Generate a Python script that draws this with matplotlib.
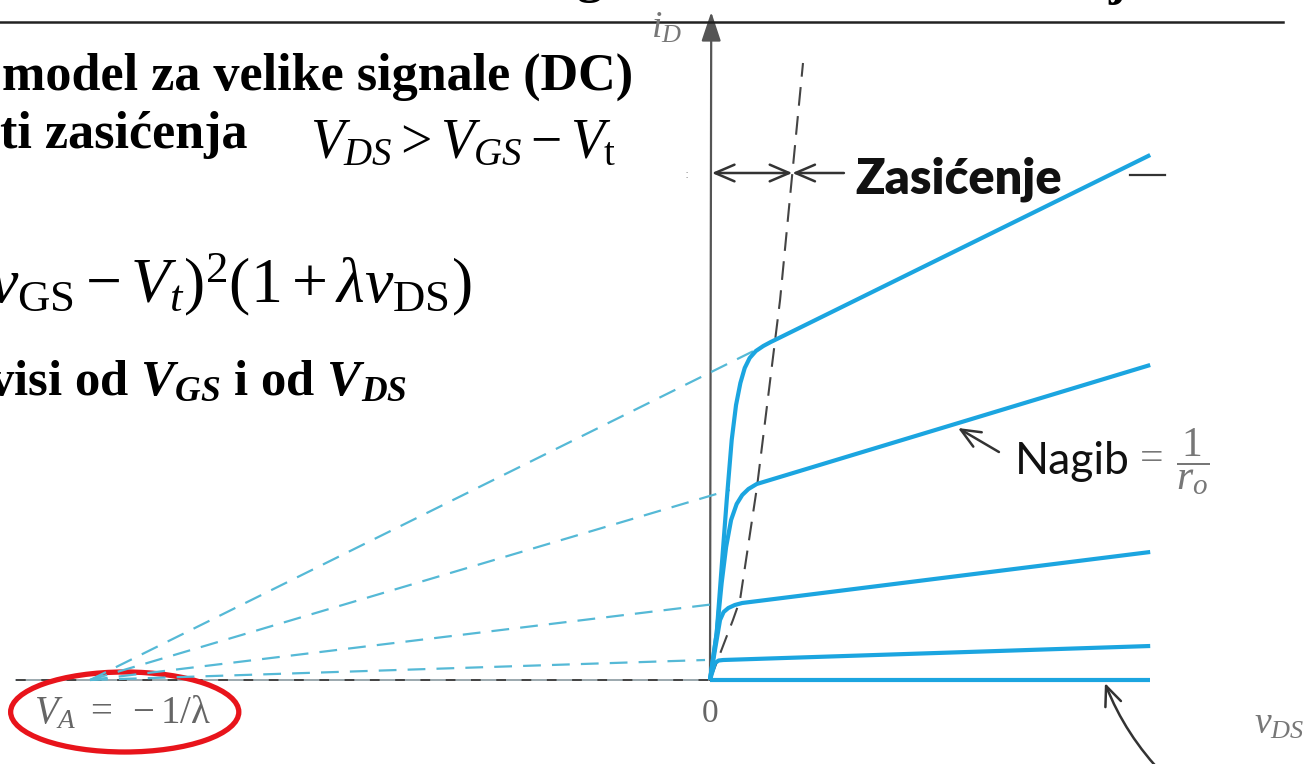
import matplotlib.pyplot as plt
import matplotlib.transforms as mtransforms
from matplotlib.patches import Ellipse

plt.rcParams['mathtext.fontset'] = 'custom'
plt.rcParams['mathtext.rm'] = 'Liberation Serif'
plt.rcParams['mathtext.it'] = 'Liberation Serif:italic'
plt.rcParams['mathtext.bf'] = 'Liberation Serif:bold'
plt.rcParams['mathtext.bfit'] = 'Liberation Serif:italic:bold'

W, H = 1305, 764

# Early napon V_A = -1/lambda i kraj krivih (vDS u V, iD u mA)
va = -50.0
v_end = 35.5

# izlazne karakteristike za 5 vrijednosti vGS (od najvece ka najmanjoj)
vds_1 = [0, 0.54, 0.94, 1.35, 1.75, 2.10, 2.45, 2.80, 3.20, 3.70, 4.30, 4.90, 5.40, v_end]
id_1 = [0, 0.47, 1.13, 1.80, 2.40, 2.75, 2.97, 3.12, 3.22, 3.29, 3.34, 3.38, 3.41, 5.25]
vds_2 = [0, 0.54, 0.94, 1.30, 1.70, 2.15, 2.60, 3.10, 3.77, v_end]
id_2 = [0, 0.47, 0.97, 1.33, 1.60, 1.76, 1.85, 1.91, 1.96, 3.15]
vds_3 = [0, 0.40, 0.81, 1.10, 1.48, 2.00, 2.60, v_end]
id_3 = [0, 0.30, 0.60, 0.68, 0.72, 0.75, 0.77, 1.28]
vds_4 = [0, 0.40, 0.70, 1.07, v_end]
id_4 = [0, 0.17, 0.195, 0.20, 0.34]
vds_5 = [0, v_end]
id_5 = [0, 0]

# isprekidani produzeci prema V_A
ext_v = [4.0, 1.6, 0.4, -0.4]
ext_i = [3.32, 1.90, 0.76, 0.20]

# granica triodne oblasti i zasicenja, vDS = vGS - Vt
gr_v = [0, 1.85, 2.42, 3.79, 5.65, 7.5]
gr_i = [0, 0.60, 0.80, 1.93, 3.80, 6.17]

plava = '#1ba5e0'
svijetla = '#55b9d6'
siva = '#555555'
tamna = '#333333'

fig = plt.figure(figsize=(W / 100, H / 100), dpi=100)
ax = fig.add_axes([0, 0, 1, 1])
ax.set_xlim(-710 / 12.4, (W - 710) / 12.4)
ax.set_ylim((680 - H) / 100, 680 / 100)
ax.axis('off')

# transformacija u piksele (x s lijeva, y odozgo)
pix = mtransforms.Affine2D().scale(1 / W, -1 / H).translate(0, 1) + fig.transFigure

strelica = dict(color=tamna, lw=1.8, shrinkA=0, shrinkB=0)

# ose
ax.plot([-56, 0], [0, 0], color='#8a9aa0', lw=1.2, zorder=1)
ax.plot([-56, 0], [0, 0], color='#444444', lw=1.4, dashes=(5, 8), zorder=1)
ax.annotate('', xy=(48.3, 0), xytext=(0, 0),
            arrowprops=dict(arrowstyle='-|>,head_length=0.9,head_width=0.3', mutation_scale=20,
                            color=siva, lw=1.4, shrinkA=0, shrinkB=0), zorder=1)
ax.annotate('', xy=(0.1, 6.68), xytext=(0, 0),
            arrowprops=dict(arrowstyle='-|>,head_length=0.9,head_width=0.3', mutation_scale=20,
                            color=siva, lw=1.6, shrinkA=0, shrinkB=0), zorder=1)

# produzeci do V_A
for v, i in zip(ext_v, ext_i):
    ax.plot([va, v], [0, i], color=svijetla, lw=1.6, dashes=(8, 5), zorder=2)

# granica zasicenja
ax.plot(gr_v, gr_i, color='#444444', lw=1.5, dashes=(9, 5), zorder=2)

# krive
for v, i in [(vds_1, id_1), (vds_2, id_2), (vds_3, id_3), (vds_4, id_4), (vds_5, id_5)]:
    ax.plot(v, i, color=plava, lw=3.0, solid_capstyle='butt', solid_joinstyle='round', zorder=3)

# strelice za oblast zasicenja
ax.annotate('', xy=(0.15, 5.07), xytext=(6.64, 5.07),
            arrowprops=dict(arrowstyle='<->,head_length=0.7,head_width=0.3', mutation_scale=20,
                            **strelica))
ax.annotate('', xy=(6.64, 5.07), xytext=(10.8, 5.07),
            arrowprops=dict(arrowstyle='->,head_length=0.7,head_width=0.3', mutation_scale=20,
                            **strelica))
ax.plot([33.9, 36.7], [5.05, 5.05], color=tamna, lw=1.6)
ax.text(855, 193, 'Zasićenje', transform=pix, fontsize=35, fontweight='heavy',
        family='Lato', color='#111111', va='baseline', ha='left')

# nagib
ax.annotate('', xy=(20.0, 2.52), xytext=(23.3, 2.28),
            arrowprops=dict(arrowstyle='->,head_length=0.7,head_width=0.3', mutation_scale=20,
                            **strelica))
ax.text(1015, 474, 'Nagib', transform=pix, fontsize=32, family='Lato', color='#111111',
        va='baseline', ha='left')
ax.text(1152, 460, '=', transform=pix, fontsize=30, family='Liberation Serif', color='#777777',
        va='center', ha='center')
ax.text(1193, 462, r'$\dfrac{1}{r_o}$', transform=pix, fontsize=30, color='#777777',
        va='center', ha='center')

# strelica na donju krivu
ax.annotate('', xy=(31.85, -0.03), xytext=(36.6, -0.95),
            arrowprops=dict(arrowstyle='->,head_length=0.7,head_width=0.3', mutation_scale=20,
                            connectionstyle='arc3,rad=-0.1', **strelica))

# oznake osa
ax.text(666, 28, r'$i_D$', transform=pix, fontsize=27, color='#777777', va='center', ha='center')
ax.text(710, 714, '0', transform=pix, fontsize=24, family='Liberation Serif', color='#666666',
        va='center', ha='center')
ax.text(1254, 724, r'$v_{DS}$', transform=pix, fontsize=27, color='#777777', va='center', ha='left')
ax.text(687, 175, ':', transform=pix, fontsize=9, color='#999999', va='center', ha='center')

# V_A = -1/lambda
ax.text(va + 2.6, -0.32, r'$V_A\ =\ -1/\mathrm{\lambda}$', fontsize=28, color='#666666',
        va='center', ha='center')
ax.add_patch(Ellipse((va + 2.8, -0.32), 18.4, 0.80, fill=False, edgecolor='#e8141b', lw=3.8))

# tekst slajda
ax.plot([0, 1283], [22, 22], transform=pix, color='#222222', lw=1.8)
ax.text(590, -8, 'g', transform=pix, fontsize=37, fontweight='bold', family='Liberation Serif',
        va='baseline', ha='center')
ax.text(1117, -6, 'j', transform=pix, fontsize=37, fontweight='bold', family='Liberation Serif',
        va='baseline', ha='center')
ax.text(2, 90, 'model za velike signale (DC)', transform=pix, fontsize=37.5, fontweight='bold',
        family='Liberation Serif', va='baseline', ha='left')
ax.text(0, 148, 'ti zasićenja', transform=pix, fontsize=37.5, fontweight='bold',
        family='Liberation Serif', va='baseline', ha='left')
ax.text(310, 158, r'$V_{DS} > V_{GS} - V_\mathrm{t}$', transform=pix, fontsize=40,
        va='baseline', ha='left')
ax.text(-11, 302, r'$v_{\mathrm{GS}} - V_t)^2(1 + \lambda v_{\mathrm{DS}})$', transform=pix,
        fontsize=46, va='baseline', ha='left')
ax.text(-12, 395, r'visi od $\mathbfit{V}_{\mathbfit{GS}}$ i od $\mathbfit{V}_{\mathbfit{DS}}$',
        transform=pix, fontsize=36.5, fontweight='bold', family='Liberation Serif',
        va='baseline', ha='left')

fig.savefig('out.png', dpi=100)
